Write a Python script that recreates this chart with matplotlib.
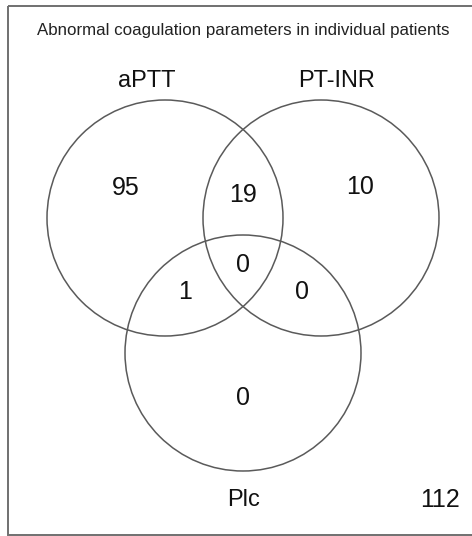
import matplotlib.pyplot as plt
from matplotlib.patches import Circle, Rectangle

plt.rcParams['font.family'] = ['Liberation Sans', 'DejaVu Sans']

# data
title = 'Abnormal coagulation parameters in individual patients'
set_names = ['aPTT', 'PT-INR', 'Plc']
# regions: A only, B only, A&B, A&B&C, A&C, B&C, C only
region_keys = ['100', '010', '110', '111', '101', '011', '001']
region_counts = [95, 10, 19, 0, 1, 0, 0]
outside_count = 112

# layout (pixel coords, y down)
W, H = 472, 536
r = 118
centers = [(165, 218), (321, 218), (243, 353)]
name_pos = [(147, 81), (337, 81), (244, 500)]
region_pos = {'100': (126, 188), '010': (360, 187), '110': (243, 195),
              '111': (243, 265), '101': (185, 292), '011': (302, 292),
              '001': (243, 398)}
outside_pos = (440, 500)

fig = plt.figure(figsize=(W / 100, H / 100), dpi=100)
ax = fig.add_axes([0, 0, 1, 1])
ax.set_xlim(0, W)
ax.set_ylim(H, 0)
ax.axis('off')

ax.add_patch(Rectangle((8, 6), 470, 529, fill=False, edgecolor='#707070', linewidth=1.4))

for c in centers:
    ax.add_patch(Circle(c, r, fill=False, edgecolor='#5a5a5a', linewidth=1.1))

ax.text(243, 30, title, ha='center', va='center', fontsize=12.2, color='#222222')

for name, (x, y) in zip(set_names, name_pos):
    ax.text(x, y, name, ha='center', va='center', fontsize=17, color='#111111')

for key, n in zip(region_keys, region_counts):
    x, y = region_pos[key]
    ax.text(x, y, str(n), ha='center', va='center', fontsize=18, color='#111111')

ax.text(*outside_pos, str(outside_count), ha='center', va='center', fontsize=18, color='#111111')

fig.savefig('out.png', dpi=100)
